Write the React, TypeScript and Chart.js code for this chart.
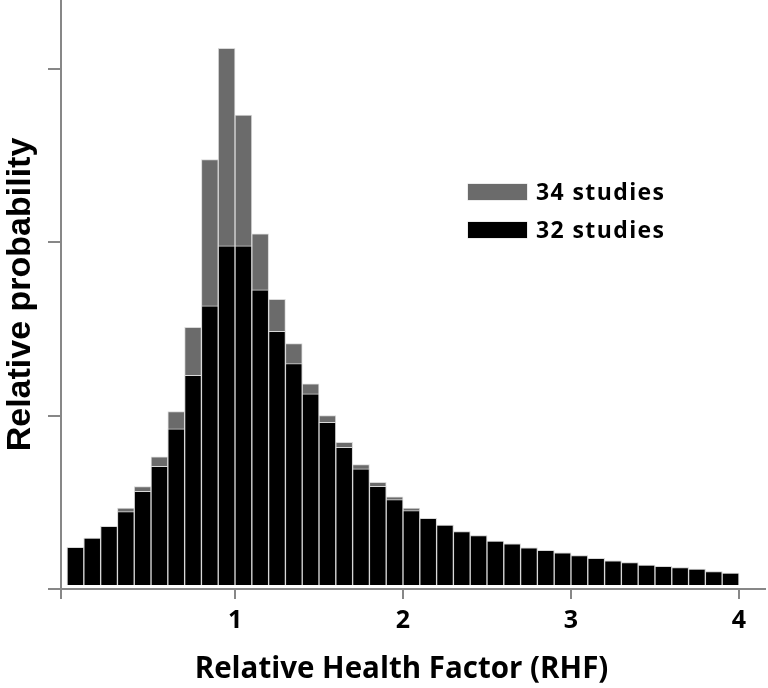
import { useEffect, useRef } from 'react';
import { Chart, registerables } from 'chart.js';

Chart.register(...registerables);

// Bin centres of the 0.1-wide histogram bins (RHF)
const binCenters = [
  0.05, 0.15, 0.25, 0.35, 0.45, 0.55, 0.65, 0.75, 0.85, 0.95,
  1.05, 1.15, 1.25, 1.35, 1.45, 1.55, 1.65, 1.75, 1.85, 1.95,
  2.05, 2.15, 2.25, 2.35, 2.45, 2.55, 2.65, 2.75, 2.85, 2.95,
  3.05, 3.15, 3.25, 3.35, 3.45, 3.55, 3.65, 3.75, 3.85, 3.95,
];

// Relative probability, 34 studies (grey, behind)
const studies34 = [
  0.240, 0.294, 0.361, 0.467, 0.590, 0.762, 1.023, 1.508, 2.475, 3.116,
  2.731, 2.047, 1.669, 1.414, 1.183, 1.000, 0.846, 0.717, 0.615, 0.531,
  0.467, 0.407, 0.369, 0.331, 0.308, 0.276, 0.260, 0.237, 0.223, 0.208,
  0.192, 0.177, 0.162, 0.152, 0.138, 0.130, 0.123, 0.115, 0.100, 0.092,
];

// Relative probability, 32 studies (black, in front)
const studies32 = [
  0.240, 0.294, 0.361, 0.446, 0.563, 0.707, 0.923, 1.231, 1.632, 1.978,
  1.978, 1.724, 1.485, 1.300, 1.125, 0.961, 0.817, 0.692, 0.592, 0.515,
  0.452, 0.407, 0.369, 0.331, 0.308, 0.276, 0.260, 0.237, 0.223, 0.208,
  0.192, 0.177, 0.162, 0.152, 0.138, 0.130, 0.123, 0.115, 0.100, 0.092,
];

const seriesLabels = ['34 studies', '32 studies'];
const xTickValues = [1, 2, 3, 4];
const yTickValues = [0, 1, 2, 3];

const X_MIN = -0.036;
const X_MAX = 4.155;
const Y_MAX = 3.395;
const BAR_BASE = 0.023;

const GREY = '#6b6b6b';
const BLACK = '#000000';
const AXIS = '#878787';
const EDGE = '#d9d9d9';

const insideLegend = {
  id: 'insideLegend',
  afterDraw(chart: any) {
    const { ctx, chartArea } = chart;
    const x = chartArea.left + 407;
    const tops = [chartArea.top + 184, chartArea.top + 222];
    const boxW = 59;
    const boxH = 16;
    ctx.save();
    chart.data.datasets.forEach((ds: any, i: number) => {
      const y = tops[i];
      ctx.fillStyle = EDGE;
      ctx.fillRect(x - 0.5, y - 0.5, boxW + 1, boxH + 1);
      ctx.fillStyle = ds.backgroundColor;
      ctx.fillRect(x, y, boxW, boxH);
      ctx.fillStyle = '#000';
      ctx.font = "bold 23px 'Open Sans'";
      try { (ctx as any).letterSpacing = '1.4px'; } catch (e) { /* ignore */ }
      ctx.textBaseline = 'alphabetic';
      ctx.textAlign = 'left';
      ctx.fillText(ds.label, x + 68, y + boxH - 0.5);
    });
    ctx.restore();
  },
};

export default function App() {
  const canvasRef = useRef<HTMLCanvasElement | null>(null);

  useEffect(() => {
    const canvas = canvasRef.current;
    if (!canvas) return;
    const chart = new Chart(canvas, {
      type: 'bar',
      data: {
        datasets: [
          {
            label: seriesLabels[0],
            data: binCenters.map((x, i) => ({ x, y: studies34[i] })),
            backgroundColor: GREY,
            borderColor: EDGE,
            borderWidth: 1,
            grouped: false,
            order: 1,
            base: BAR_BASE,
            barPercentage: 1,
            categoryPercentage: 1,
          } as any,
          {
            label: seriesLabels[1],
            data: binCenters.map((x, i) => ({ x, y: studies32[i] })),
            backgroundColor: BLACK,
            borderColor: EDGE,
            borderWidth: 1,
            grouped: false,
            order: 0,
            base: BAR_BASE,
            barPercentage: 1,
            categoryPercentage: 1,
          } as any,
        ],
      },
      options: {
        responsive: false,
        animation: false,
        devicePixelRatio: 1,
        layout: { padding: { left: 0, right: 3, top: 0, bottom: 0 } },
        plugins: {
          legend: { display: false },
          tooltip: { enabled: false },
        },
        scales: {
          x: {
            type: 'linear',
            min: X_MIN,
            max: X_MAX,
            offset: false,
            afterBuildTicks: (scale: any) => {
              scale.ticks = [X_MIN, ...xTickValues].map((v) => ({ value: v }));
            },
            ticks: {
              autoSkip: false,
              maxRotation: 0,
              padding: 7,
              color: '#000',
              font: { family: 'Open Sans', weight: 'bold', size: 25 },
              callback: (v: any) => (xTickValues.includes(Number(v)) ? String(v) : ''),
            },
            grid: {
              display: true,
              offset: false,
              drawOnChartArea: false,
              drawTicks: true,
              tickLength: 10,
              color: AXIS,
              lineWidth: 2,
            },
            border: { display: true, color: AXIS, width: 2 },
            title: {
              display: true,
              text: 'Relative Health Factor (RHF)   ',
              color: '#000',
              font: { family: 'Open Sans', weight: 'bold', size: 29.5 },
              padding: { top: 8.8, bottom: 0.8 },
            },
          },
          y: {
            type: 'linear',
            min: 0,
            max: Y_MAX,
            afterBuildTicks: (scale: any) => {
              scale.ticks = yTickValues.map((v) => ({ value: v }));
            },
            ticks: { display: false },
            grid: {
              display: true,
              drawOnChartArea: false,
              drawTicks: true,
              tickLength: 13,
              color: AXIS,
              lineWidth: 2,
            },
            border: { display: true, color: AXIS, width: 2 },
            title: {
              display: true,
              text: 'Relative probability',
              color: '#000',
              font: { family: 'Liberation Sans', weight: 'bold', size: 34 },
              padding: { top: 0, bottom: 7.2 },
            },
          },
        },
      } as any,
      plugins: [insideLegend],
    });
    return () => chart.destroy();
  }, []);

  return (
    <div style={{ position: 'absolute', left: 0, top: 0, width: 768, height: 688, background: '#fff' }}>
      <canvas ref={canvasRef} width={768} height={688} style={{ display: 'block' }} />
    </div>
  );
}
